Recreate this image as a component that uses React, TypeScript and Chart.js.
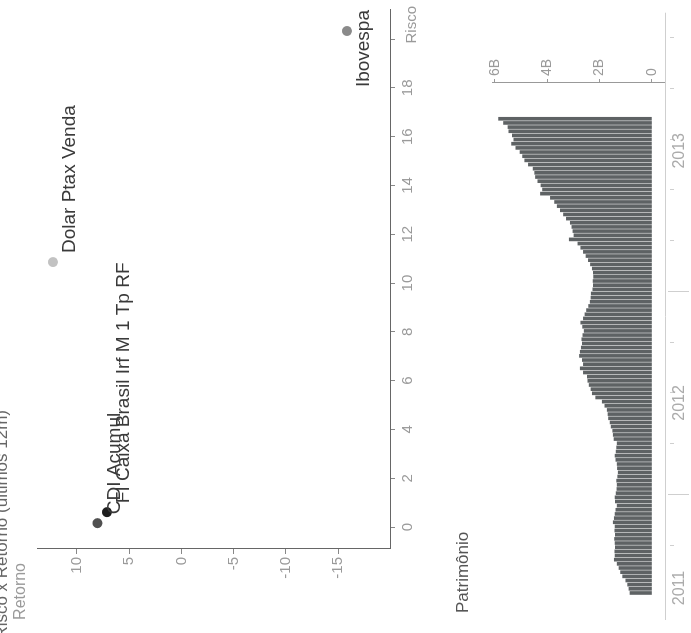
import React, { useEffect, useRef } from "react";
import { Chart, registerables } from "chart.js";
Chart.register(...registerables);

const FONT = "'Liberation Sans', Arial, sans-serif";

// Scatter: risk vs return
const fundNames = ["CDI Acumul", "FI Caixa Brasil Irf M 1 Tp RF", "Dolar Ptax Venda", "Ibovespa"];
const riscoValues = [0.16, 0.61, 10.86, 20.33];
const retornoValues = [8.04, 7.13, 12.3, -15.86];
const pointColors = ["#505050", "#1e1e1e", "#c2c2c2", "#8a8a8a"];
const riscoTicks = [0, 2, 4, 6, 8, 10, 12, 14, 16, 18, 20];
const riscoTickLabels = ["0", "2", "4", "6", "8", "10", "12", "14", "16", "18", ""];
const retornoTicks = [10, 5, 0, -5, -10, -15];
const chartTitle = "Risco x Retorno (últimos 12m)";

// Bars: patrimônio (billions), oldest first
const patrimonioValues = [
  0.84, 0.88, 0.93, 1.0, 1.12, 1.2, 1.26, 1.33, 1.44, 1.41,
  1.42, 1.4, 1.41, 1.43, 1.4, 1.42, 1.41, 1.48, 1.44, 1.41,
  1.38, 1.33, 1.4, 1.41, 1.37, 1.34, 1.33, 1.35, 1.31, 1.29,
  1.32, 1.33, 1.38, 1.41, 1.37, 1.35, 1.33, 1.45, 1.48, 1.5,
  1.56, 1.6, 1.66, 1.68, 1.71, 1.8, 1.9, 2.15, 2.28, 2.33,
  2.4, 2.45, 2.47, 2.62, 2.74, 2.62, 2.66, 2.77, 2.74, 2.7,
  2.66, 2.68, 2.64, 2.59, 2.65, 2.72, 2.62, 2.56, 2.5, 2.42,
  2.36, 2.33, 2.32, 2.26, 2.24, 2.25, 2.23, 2.24, 2.28, 2.35,
  2.43, 2.52, 2.62, 2.72, 2.83, 3.16, 2.98, 3.02, 3.06, 3.12,
  3.27, 3.38, 3.5, 3.62, 3.72, 3.88, 4.26, 4.18, 4.24, 4.36,
  4.45, 4.48, 4.54, 4.72, 4.86, 4.94, 5.04, 5.2, 5.36, 5.28,
  5.33, 5.47, 5.5, 5.67, 5.86,
];
const valueTicks = [0, 2, 4, 6];
const valueTickLabels = ["0", "2B", "4B", "6B"];
const yearLabels = ["2011", "2012", "2013"];
const yearLabelWeeks = [1.2, 45.7, 106.3];
const yearBoundaryWeeks = [23.6, 72.4];
const quarterWeeks = [11.4, 35.8, 48.0, 60.2, 84.6, 96.8, 109.0, 121.2, 133.4];
const timeAxisRange = [-6.5, 139.5];

export default function App() {
  const scatterRef = useRef<HTMLCanvasElement>(null);
  const barRef = useRef<HTMLCanvasElement>(null);

  useEffect(() => {
    const scatterLabels = {
      id: "scatterLabels",
      afterDraw(chart: any) {
        const ctx = chart.ctx;
        const area = chart.chartArea;
        const meta = chart.getDatasetMeta(0);
        ctx.save();
        ctx.font = `19px ${FONT}`;
        ctx.fillStyle = "#3a3a3a";
        ctx.textBaseline = "middle";
        ctx.textAlign = "left";
        meta.data.forEach((pt: any, i: number) => {
          const w = ctx.measureText(fundNames[i]).width;
          let x = pt.x + 9;
          if (x + w > area.right) x = area.right - w;
          ctx.fillText(fundNames[i], x, pt.y + 17);
        });
        // axis names
        ctx.font = `16px ${FONT}`;
        ctx.fillStyle = "#9a9a9a";
        ctx.textAlign = "right";
        ctx.fillText("Retorno", 70, 21);
        ctx.font = `15px ${FONT}`;
        ctx.fillText("Risco", 627, 412);
        // title (cut off at page edge)
        ctx.font = `17px ${FONT}`;
        ctx.fillStyle = "#666";
        ctx.fillText(chartTitle, 223, 2);
        ctx.restore();
      },
    };

    const scatter = new Chart(scatterRef.current!, {
      type: "scatter",
      data: {
        datasets: [
          {
            data: riscoValues.map((r, i) => ({ x: r, y: retornoValues[i] })),
            pointBackgroundColor: pointColors,
            pointBorderWidth: 0,
            pointRadius: 5,
          },
        ],
      },
      options: {
        animation: false,
        responsive: false,
        layout: { padding: { top: 37, right: 10, left: 0, bottom: 0 } },
        plugins: { legend: { display: false }, tooltip: { enabled: false } },
        scales: {
          x: {
            type: "linear",
            min: -0.9,
            max: 21.19,
            afterFit: (s: any) => {
              s.height = 50;
            },
            afterBuildTicks: (s: any) => {
              s.ticks = riscoTicks.map((v) => ({ value: v }));
            },
            ticks: {
              autoSkip: false,
              maxRotation: 0,
              padding: 4,
              color: "#9a9a9a",
              font: { size: 15, family: FONT },
              callback: (_v: any, i: number) => riscoTickLabels[i],
            },
            grid: { drawOnChartArea: false, tickLength: 5, color: "#888" },
            border: { color: "#666", width: 1 },
          },
          y: {
            type: "linear",
            min: -19.98,
            max: 13.83,
            afterFit: (s: any) => {
              s.width = 84;
            },
            afterBuildTicks: (s: any) => {
              s.ticks = retornoTicks.map((v) => ({ value: v }));
            },
            ticks: {
              autoSkip: false,
              padding: 3,
              color: "#9a9a9a",
              font: { size: 15, family: FONT },
              callback: (v: any) => String(v),
            },
            grid: { drawOnChartArea: false, tickLength: 5, color: "#888" },
            border: { color: "#666", width: 1 },
          },
        },
      },
      plugins: [scatterLabels],
    } as any);

    const timeAxis = {
      id: "timeAxis",
      afterDraw(chart: any) {
        const ctx = chart.ctx;
        const xs = chart.scales.x;
        const bottom = chart.chartArea.bottom;
        ctx.save();
        ctx.strokeStyle = "#cfcfcf";
        ctx.lineWidth = 1;
        ctx.beginPath();
        ctx.moveTo(xs.getPixelForValue(timeAxisRange[0]), bottom + 0.5);
        ctx.lineTo(xs.getPixelForValue(timeAxisRange[1]), bottom + 0.5);
        ctx.stroke();
        yearBoundaryWeeks.forEach((w) => {
          const x = Math.round(xs.getPixelForValue(w)) + 0.5;
          ctx.beginPath();
          ctx.moveTo(x, bottom + 3);
          ctx.lineTo(x, bottom + 24);
          ctx.stroke();
        });
        quarterWeeks.forEach((w) => {
          const x = Math.round(xs.getPixelForValue(w)) + 0.5;
          ctx.beginPath();
          ctx.moveTo(x, bottom + 5);
          ctx.lineTo(x, bottom + 9);
          ctx.stroke();
        });
        ctx.font = `16px ${FONT}`;
        ctx.fillStyle = "#ababab";
        ctx.textAlign = "center";
        ctx.textBaseline = "middle";
        yearLabels.forEach((lab, i) => {
          ctx.fillText(lab, xs.getPixelForValue(yearLabelWeeks[i]), bottom + 15);
        });
        ctx.font = `17px ${FONT}`;
        ctx.fillStyle = "#555";
        ctx.textAlign = "left";
        ctx.fillText("Patrimônio", 20, 23);
        ctx.restore();
      },
    };

    const bars = new Chart(barRef.current!, {
      type: "bar",
      data: {
        datasets: [
          {
            data: patrimonioValues.map((v, i) => ({ x: i, y: v })),
            backgroundColor: "#5e6264",
            barThickness: 3,
          },
        ],
      },
      options: {
        animation: false,
        responsive: false,
        layout: { padding: { left: 8, top: 52, bottom: 26, right: 0 } },
        plugins: { legend: { display: false }, tooltip: { enabled: false } },
        scales: {
          x: {
            type: "linear",
            display: false,
            offset: false,
            min: -7.7,
            max: 122.6,
            grid: { offset: false },
          },
          y: {
            position: "right",
            min: -0.497,
            max: 6.11,
            afterFit: (s: any) => {
              s.width = 83;
            },
            afterBuildTicks: (s: any) => {
              s.ticks = valueTicks.map((v) => ({ value: v }));
            },
            ticks: {
              autoSkip: false,
              padding: 3,
              color: "#9a9a9a",
              font: { size: 14, family: FONT },
              callback: (_v: any, i: number) => valueTickLabels[i],
            },
            grid: { drawOnChartArea: false, tickLength: 4, color: "#999" },
            border: { color: "#999", width: 1 },
          },
        },
      },
      plugins: [timeAxis],
    } as any);

    return () => {
      scatter.destroy();
      bars.destroy();
    };
  }, []);

  return (
    <div
      style={{
        position: "fixed",
        left: 0,
        top: 0,
        width: 633,
        height: 691,
        background: "#fff",
        transformOrigin: "0 0",
        transform: "translateY(633px) rotate(-90deg)",
      }}
    >
      <div style={{ position: "absolute", left: 0, top: 0, width: 633, height: 440 }}>
        <canvas ref={scatterRef} width={633} height={440} />
      </div>
      <div style={{ position: "absolute", left: 0, top: 440, width: 633, height: 251 }}>
        <canvas ref={barRef} width={633} height={251} />
      </div>
    </div>
  );
}
